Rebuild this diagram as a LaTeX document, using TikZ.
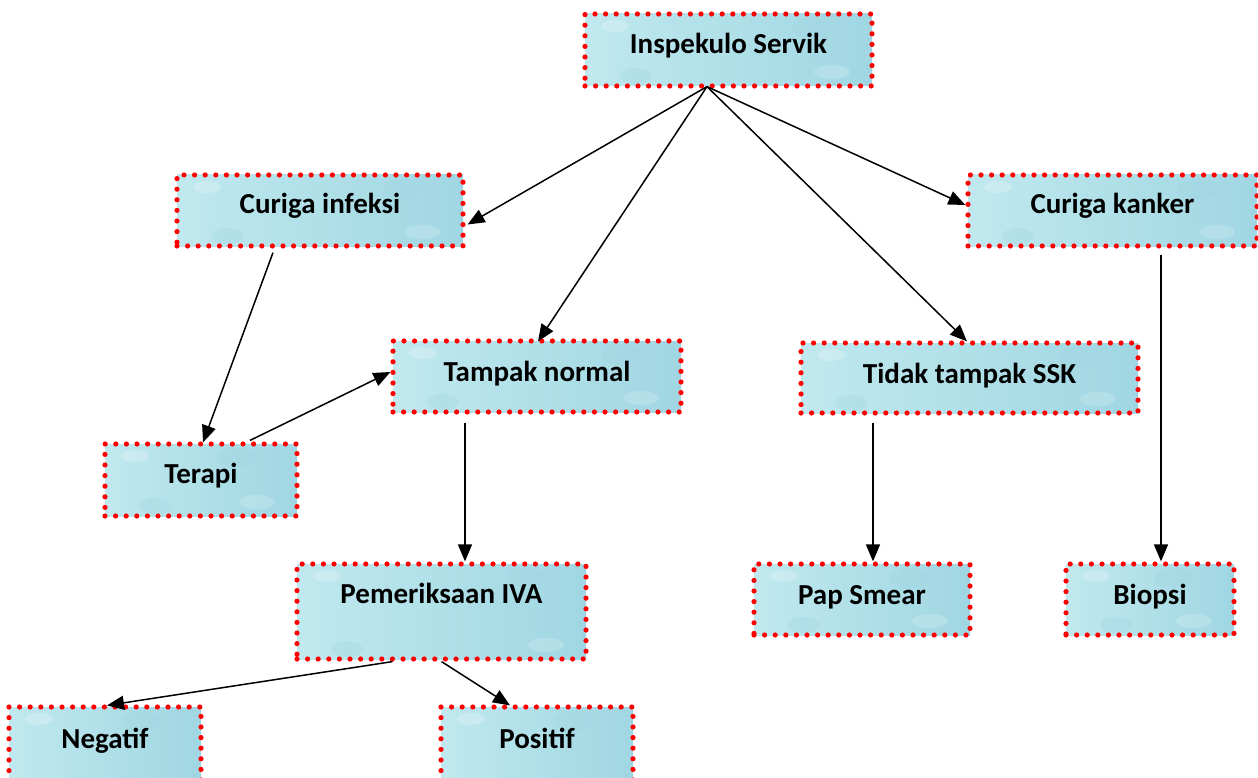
\documentclass[tikz,border=0pt]{standalone}
\usepackage{fontspec}
\setmainfont{Carlito}
\usetikzlibrary{arrows.meta}
\definecolor{dotred}{RGB}{255,0,0}
\definecolor{aqL}{RGB}{192,232,239}
\definecolor{aqM}{RGB}{176,224,232}
\definecolor{aqD}{RGB}{160,214,227}
\tikzset{
  box/.style={rectangle, inner sep=0pt, text height=20pt,
    font=\fontsize{29}{34}\selectfont\bfseries,
    left color=aqL, right color=aqD, middle color=aqM,
    draw=dotred, line width=5.2pt, line cap=round,
    dash pattern=on 0pt off 10.6pt,
    path picture={
      \fill[white,opacity=0.22] ([xshift=30pt,yshift=-12pt]path picture bounding box.north west) ellipse (14pt and 6pt);
      \fill[white,opacity=0.18] ([xshift=-40pt,yshift=14pt]path picture bounding box.south east) ellipse (18pt and 7pt);
      \fill[aqD,opacity=0.35] ([xshift=-60pt,yshift=-14pt]path picture bounding box.north east) ellipse (20pt and 10pt);
      \fill[aqD,opacity=0.3] ([xshift=50pt,yshift=10pt]path picture bounding box.south west) ellipse (16pt and 8pt);
    }},
  conn/.style={line width=1.5pt, -{Triangle[length=17pt,width=14pt]}}
}
\begin{document}
\begin{tikzpicture}[x=1pt,y=-1pt]
\useasboundingbox (0,0) rectangle (1258,778);
\clip (0,0) rectangle (1258,778);
\node[box, minimum width=287pt, minimum height=72pt, text depth=12pt] (ins) at (728.5,50) {Inspekulo Servik};
\node[box, minimum width=286pt, minimum height=71pt, text depth=13pt] (inf) at (320,210.5) {Curiga infeksi};
\node[box, minimum width=289pt, minimum height=71pt, text depth=13pt] (kan) at (1112.5,210.5) {Curiga kanker};
\node[box, minimum width=288pt, minimum height=71pt, text depth=11pt] (nor) at (537,376.5) {Tampak normal};
\node[box, minimum width=337pt, minimum height=70pt, text depth=10pt] (ssk) at (969.5,378) {Tidak tampak SSK};
\node[box, minimum width=192pt, minimum height=72pt, text depth=14pt] (ter) at (201,480) {Terapi};
\node[box, minimum width=289pt, minimum height=95pt, text depth=37pt] (iva) at (441.5,611.5) {Pemeriksaan IVA};
\node[box, minimum width=216pt, minimum height=71pt, text depth=11pt] (pap) at (862,599.5) {Pap Smear};
\node[box, minimum width=168pt, minimum height=71pt, text depth=11pt] (bio) at (1150,599.5) {Biopsi};
\node[box, minimum width=192pt, minimum height=93pt, text depth=31pt] (neg) at (105,753.5) {Negatif};
\node[box, minimum width=192pt, minimum height=93pt, text depth=31pt] (pos) at (537,753.5) {Positif};

\draw[conn] ([xshift=-21.5pt,yshift=2pt]ins.south) -- ([yshift=-14pt,xshift=2pt]inf.east);
\draw[conn] ([xshift=-21.5pt,yshift=2pt]ins.south) -- ([xshift=1pt,yshift=-3pt]nor.north);
\draw[conn] ([xshift=-21.5pt,yshift=2pt]ins.south) -- ([xshift=-2.5pt,yshift=-1pt]ssk.north);
\draw[conn] ([xshift=-21.5pt,yshift=2pt]ins.south) -- ([yshift=5.5pt]kan.west);
\draw[conn] ([xshift=-47pt,yshift=-4pt]inf.south) -- ([xshift=2pt,yshift=-1pt]ter.north);
\draw[conn] ([xshift=49pt,yshift=1pt]ter.north) -- ([yshift=4.5pt]nor.west);
\draw[conn] ([xshift=-72pt,yshift=-8pt]nor.south) -- ([xshift=23.5pt]iva.north);
\draw[conn] ([xshift=-96.5pt,yshift=-7pt]ssk.south) -- ([xshift=11pt]pap.north);
\draw[conn] ([xshift=48.5pt,yshift=-6pt]kan.south) -- ([xshift=11pt]bio.north);
\draw[conn] ([xshift=-49pt]iva.south) -- ([xshift=2pt,yshift=-1pt]neg.north);
\draw[conn] ([xshift=0pt]iva.south) -- ([xshift=-27pt,yshift=-1pt]pos.north);
\end{tikzpicture}
\end{document}
